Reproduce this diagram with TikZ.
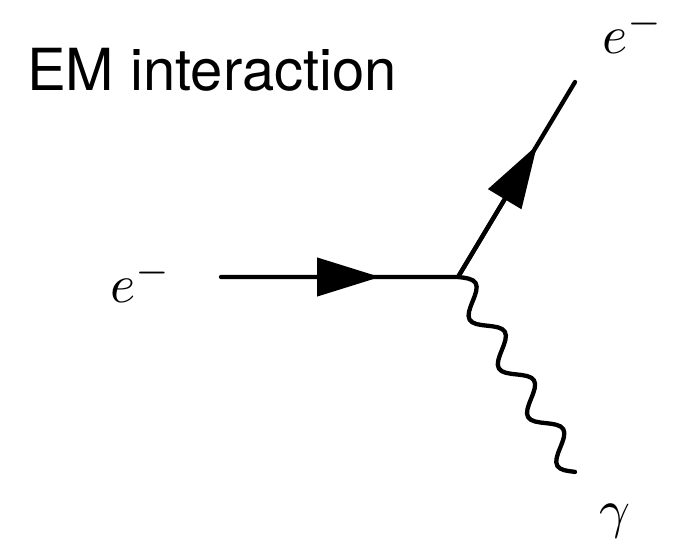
\documentclass[tikz,border=0pt]{standalone}
\usepackage{fontspec}
\setsansfont{TeX Gyre Heros}
\usetikzlibrary{arrows.meta,decorations,calc}
\pgfdeclaredecoration{fullsine}{initial}{
  \state{initial}[width=+\pgfdecorationsegmentlength]{
    \pgfpathsine{\pgfpoint{0.25\pgfdecorationsegmentlength}{\pgfdecorationsegmentamplitude}}
    \pgfpathcosine{\pgfpoint{0.25\pgfdecorationsegmentlength}{-\pgfdecorationsegmentamplitude}}
    \pgfpathsine{\pgfpoint{0.25\pgfdecorationsegmentlength}{-\pgfdecorationsegmentamplitude}}
    \pgfpathcosine{\pgfpoint{0.25\pgfdecorationsegmentlength}{\pgfdecorationsegmentamplitude}}
  }
  \state{final}{\pgfpathlineto{\pgfpointdecoratedpathlast}}
}
\begin{document}
\begin{tikzpicture}[x=1pt,y=-1pt,
  fermion/.style={line width=4.3pt, line cap=round, line join=round},
  farrow/.style={line width=4.3pt, -{Triangle[length=63pt,width=38pt]}},
  photon/.style={line width=4.3pt, line cap=round, line join=round, decorate,
    decoration={fullsine, segment length=56.8pt, amplitude=12pt}},
  lbl/.style={inner sep=0pt, anchor=base west, scale=5.4},
  title/.style={inner sep=0pt, anchor=base west, font=\sffamily\fontsize{58}{64}\selectfont}]
\useasboundingbox (0,0) rectangle (679,544);
\coordinate (v) at (458,277);
\coordinate (ein) at (221,277);
\coordinate (eout) at (575,82);
\coordinate (gend) at (575,472);
\node[title] (t) at (27,90) {EM interaction};
\node[lbl] (lin) at (109,302) {$e^-$};
\node[lbl] (lout) at (601,53) {$e^-$};
\node[lbl] (lg) at (598,527) {$\gamma$};
\draw[fermion] (ein) -- (v) -- (eout);
\draw[farrow] (ein) -- ($(ein)!0.671!(v)$);
\draw[farrow] (v) -- ($(v)!0.676!(eout)$);
\draw[photon] (v) -- (gend);
\end{tikzpicture}
\end{document}
